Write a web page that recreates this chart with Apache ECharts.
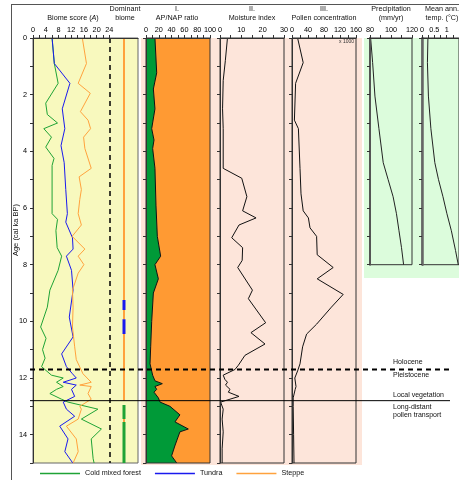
<!DOCTYPE html>
<html>
<head>
<meta charset="utf-8">
<script src="https://cdn.jsdelivr.net/npm/echarts@6/dist/echarts.min.js"></script>
<style>
html, body { margin: 0; padding: 0; background: #fff; }
#main { width: 459px; height: 480px; }
</style>
</head>
<body>
<div id="main"></div>
<script>
// ---- ticks / labels ----
var ageTicks = [0, 1, 2, 3, 4, 5, 6, 7, 8, 9, 10, 11, 12, 13, 14, 15]
var ageLabels = [0, 2, 4, 6, 8, 10, 12, 14]
var biomeTicks = [0, 2, 4, 6, 8, 10, 12, 14, 16, 18, 20, 22, 24]
var biomeLabels = [0, 4, 8, 12, 16, 20, 24]
var apTicks = [0, 10, 20, 30, 40, 50, 60, 70, 80, 90, 100]
var apLabels = [0, 20, 40, 60, 80, 100]
var miTicks = [0, 5, 10, 15, 20, 25, 30]
var miLabels = [0, 10, 20, 30]
var pcTicks = [0, 20, 40, 60, 80, 100, 120, 140, 160]
var pcLabels = [0, 40, 80, 120, 160]
var prTicks = [80, 90, 100, 110, 120]
var prLabels = [80, 100, 120]
var tpTicks = [0, 0.25, 0.5, 0.75, 1, 1.25]
var tpLabels = [0, 0.5, 1]

// ---- biome scores ----
var forestAge = [0, 0.9, 1.6, 2.3, 2.7, 3.0, 3.2, 3.5, 3.85, 4.25, 4.5, 6.2, 6.4, 6.8, 7.4, 7.7, 8.2, 8.9, 9.5, 10.2, 10.6, 11.0, 11.3, 11.6, 11.9, 12.0, 12.15, 12.3, 12.4, 12.55, 12.75, 12.85, 13.1, 13.45, 13.8, 14.15, 14.85, 15.0]
var forestScore = [6.0, 6.7, 7.9, 4.0, 4.5, 7.7, 3.4, 5.8, 4.0, 6.6, 6.0, 6.0, 7.7, 7.2, 7.6, 9.0, 7.9, 5.3, 4.5, 2.4, 4.1, 3.0, 3.8, 2.7, 5.8, 9.5, 7.4, 9.5, 7.4, 5.3, 9.0, 11.0, 20.4, 15.2, 21.5, 18.3, 18.9, 19.2]
var tundraAge = [0, 0.9, 1.6, 2.5, 3.2, 3.8, 4.4, 5.35, 6.2, 6.5, 7.05, 7.45, 7.7, 8.2, 8.9, 9.85, 10.55, 11.15, 11.6, 11.85, 12.0, 12.15, 12.25, 12.4, 12.65, 12.85, 13.1, 13.35, 13.7, 14.15, 14.6, 15.0]
var tundraScore = [6.0, 6.7, 11.6, 9.2, 10.0, 8.8, 9.8, 10.3, 10.8, 10.3, 12.4, 12.6, 10.5, 12.1, 12.6, 11.4, 12.6, 9.0, 10.5, 12.4, 13.6, 9.5, 13.6, 12.1, 13.1, 9.5, 10.5, 13.1, 8.4, 11.0, 10.0, 12.5]
var steppeAge = [0, 0.9, 1.6, 1.95, 2.6, 2.9, 3.2, 3.5, 3.9, 4.6, 4.9, 5.35, 5.7, 6.2, 6.6, 7.0, 7.45, 7.7, 8.0, 8.3, 8.9, 9.5, 10.2, 10.9, 11.35, 11.85, 12.15, 12.25, 12.3, 12.55, 12.75, 13.0, 13.1, 13.45, 13.7, 14.15, 14.6, 15.0]
var steppeScore = [15.5, 16.8, 14.2, 18.0, 14.9, 17.3, 18.1, 15.9, 16.3, 18.3, 14.5, 15.2, 14.7, 14.2, 15.2, 12.3, 16.3, 14.2, 16.0, 14.2, 12.4, 12.6, 12.4, 13.1, 13.6, 15.7, 18.3, 14.7, 18.3, 17.3, 18.3, 14.7, 15.2, 14.2, 10.5, 13.6, 14.2, 12.6]

// dominant biome intervals (ka)
var domStart = [0, 9.25, 9.6, 9.93, 10.45, 12.95, 13.45, 13.55]
var domEnd = [9.25, 9.6, 9.93, 10.45, 12.8, 13.45, 13.55, 15]
var domBiome = ['Steppe', 'Tundra', 'Steppe', 'Tundra', 'Steppe', 'Cold mixed forest', 'Steppe', 'Cold mixed forest']

// ---- I. AP/NAP ratio (AP %) ----
var apAge = [0, 1.23, 1.8, 2.5, 3.2, 3.6, 3.9, 4.6, 5.9, 7.0, 7.7, 8.0, 8.5, 9.0, 10.0, 10.9, 11.5, 11.9, 12.1, 12.2, 12.3, 12.4, 12.5, 12.7, 12.85, 13.0, 13.3, 13.55, 13.8, 13.9, 14.4, 14.75, 15.0]
var apValue = [14, 16.7, 11.5, 14, 8.9, 12.5, 10.4, 14, 15.6, 17.7, 22.9, 14, 19.3, 11.5, 8.9, 7.3, 6.3, 10.4, 14, 25.5, 14, 16.7, 12.5, 19.3, 21.9, 37.5, 53, 45.3, 66.1, 53, 45, 40, 48]

// ---- II. moisture index ----
var miAge = [0, 0.8, 1.5, 2.5, 3.2, 4.6, 4.95, 5.6, 6.1, 6.35, 6.6, 7.05, 7.4, 7.85, 8.1, 8.9, 9.2, 10.05, 10.4, 10.8, 11.2, 11.55, 11.7, 11.9, 12.05, 12.15, 12.25, 12.4, 12.5, 12.65, 12.85, 13.1, 13.45, 13.9, 14.5, 15]
var miValue = [3.5, 2.5, 1.5, 1.2, 1.5, 1.5, 10.2, 12.6, 10.6, 16.9, 8.9, 5.5, 10.6, 10.4, 8.3, 15.2, 13.3, 21.4, 14.5, 21.1, 11.7, 8.6, 7.0, 1.5, 2.3, 3.5, 2.6, 4.7, 3.9, 8.9, 0.3, 1.5, 1.0, 1.5, 1.0, 1.0]

// ---- III. pollen concentration (x 1000) ----
var pcAge = [0, 0.87, 1.6, 2.9, 3.2, 4.6, 5.5, 6.1, 6.35, 6.7, 7.0, 7.65, 8.1, 8.5, 9.05, 9.5, 10.1, 10.45, 10.9, 11.5, 11.75, 12.0, 12.3, 12.4, 12.7, 13.0, 14.0, 15.0]
var pcValue = [14, 28, 9, 6, 16, 20, 22.5, 28, 41, 45, 61.5, 63, 103, 63, 128, 98.5, 61.5, 36.5, 26.5, 20, 14, 7, 10, 8, 3, 3, 4, 5]

// ---- precipitation / temperature ----
var prAge = [0, 0.87, 2.05, 3.2, 4.4, 5.0, 5.6, 6.2, 6.8, 7.4, 8.0]
var prValue = [80.6, 82.5, 84.7, 88.5, 92.6, 97.3, 102, 105.2, 107.6, 110, 112]
var tpAge = [0, 0.87, 2.05, 3.2, 4.4, 5.0, 5.6, 6.2, 6.8, 7.5, 8.0]
var tpValue = [0.24, 0.22, 0.26, 0.36, 0.52, 0.67, 0.85, 1.01, 1.19, 1.36, 1.47]

var holoceneAge = 11.7
var localAge = 12.8

var ff = 'Liberation Sans, Arial, sans-serif'
var colors = { 'Cold mixed forest': '#1fa336', 'Tundra': '#1a1aee', 'Steppe': '#ffa23d' }

function pairs (xs, ys) {
  return xs.map(function (x, i) { return [x, ys[i]] })
}

var domX = 28.6
function domData (name) {
  var out = []
  domBiome.forEach(function (b, i) {
    if (b === name) {
      out.push([domX, domStart[i]], [domX, domEnd[i]], null)
    }
  })
  return out
}

function xAx (grid, min, max, ticks, labels) {
  return {
    type: 'value', gridIndex: grid, position: 'top', min: min, max: max, z: 5,
    axisLine: { show: true, lineStyle: { color: '#333', width: 1 } },
    axisTick: { show: true, inside: false, length: 3, customValues: ticks, lineStyle: { color: '#333' } },
    axisLabel: { customValues: labels, fontSize: 7.3, color: '#000', margin: 5, fontFamily: ff },
    splitLine: { show: false }
  }
}
function yAx (grid, max, labels, lineColor, lineWidth) {
  return {
    type: 'value', gridIndex: grid, inverse: true, min: 0, max: max, z: 5,
    axisLine: { show: true, lineStyle: { color: lineColor || '#333', width: lineWidth || 1 } },
    axisTick: { show: true, inside: false, length: 3, customValues: ageTicks.filter(function (t) { return t <= max }), lineStyle: { color: '#333' } },
    axisLabel: { show: labels, customValues: ageLabels, fontSize: 7.3, color: '#000', margin: 6, fontFamily: ff },
    splitLine: { show: false }
  }
}
function lineSeries (name, x, y, data, color, width) {
  return {
    name: name, type: 'line', xAxisIndex: x, yAxisIndex: y, data: data,
    showSymbol: false, symbol: 'none', animation: false,
    lineStyle: { color: color, width: width || 1 }, itemStyle: { color: color }
  }
}

function header (x, lines) {
  var ys = lines.length === 2 ? [9, 18] : [18]
  return lines.map(function (t, i) {
    return {
      type: 'text', z: 10, silent: true,
      style: { text: t, x: x, y: ys[i], fill: '#111', font: '7.2px ' + ff, textAlign: 'center', textVerticalAlign: 'middle',
        rich: { i: { fontStyle: 'italic', fontSize: 7.2, fontFamily: ff, fill: '#111' } } }
    }
  })
}
function label (x, y, t) {
  return { type: 'text', z: 10, silent: true, style: { text: t, x: x, y: y, fill: '#111', font: '7px ' + ff, textAlign: 'left', textVerticalAlign: 'middle' } }
}

function buildGraphic (yHol, yLoc) {
  var g = [
    { type: 'rect', z: -10, silent: true, shape: { x: 141, y: 38, width: 221, height: 427 }, style: { fill: '#fde5da' } },
    { type: 'rect', z: -10, silent: true, shape: { x: 364, y: 38, width: 95, height: 240 }, style: { fill: '#dcfcdc' } },
    { type: 'line', z: 10, silent: true, shape: { x1: 11, y1: 4.5, x2: 459, y2: 4.5 }, style: { stroke: '#555', lineWidth: 1 } },
    { type: 'line', z: 10, silent: true, shape: { x1: 11.5, y1: 4, x2: 11.5, y2: 480 }, style: { stroke: '#555', lineWidth: 1 } },
    { type: 'text', z: 10, silent: true, rotation: Math.PI / 2, x: 16, y: 230,
      style: { text: 'Age (cal ka BP)', x: 0, y: 0, fill: '#111', font: '7.5px ' + ff, textAlign: 'center', textVerticalAlign: 'middle' } },
    { type: 'text', z: 10, silent: true, style: { text: 'x 1000', x: 354, y: 42, fill: '#333', font: '5px ' + ff, textAlign: 'right', textVerticalAlign: 'middle' } }
  ]
  g = g.concat(header(73, ['Biome score ({i|A})']))
  g = g.concat(header(125, ['Dominant', 'biome']))
  g = g.concat(header(177, ['I.', 'AP/NAP ratio']))
  g = g.concat(header(252, ['II.', 'Moisture index']))
  g = g.concat(header(324, ['III.', 'Pollen concentration']))
  g = g.concat(header(391, ['Precipitation', '(mm/yr)']))
  g = g.concat(header(442, ['Mean ann.', 'temp. (°C)']))
  if (yHol != null) {
    g.push({ type: 'line', z: 10, silent: true, shape: { x1: 30, y1: yHol, x2: 453, y2: yHol }, style: { stroke: '#000', lineWidth: 2, lineDash: [5, 4] } })
    g.push({ type: 'line', z: 10, silent: true, shape: { x1: 30, y1: yLoc, x2: 450, y2: yLoc }, style: { stroke: '#000', lineWidth: 1 } })
    g.push(label(393, yHol - 7, 'Holocene'))
    g.push(label(393, yHol + 6, 'Pleistocene'))
    g.push(label(393, yLoc - 6, 'Local vegetation'))
    g.push(label(393, yLoc + 6, 'Long-distant'))
    g.push(label(393, yLoc + 14, 'pollen transport'))
  }
  return g
}

var chart = echarts.init(document.getElementById('main'), null, { renderer: 'canvas' })

var option = {
  animation: false,
  textStyle: { fontFamily: ff },
  grid: [
    { left: 33, top: 38, width: 105, height: 425, show: true, backgroundColor: '#f8f9be', borderColor: '#666', borderWidth: 1 },
    { left: 146, top: 38, width: 64, height: 425, show: true, backgroundColor: 'transparent', borderColor: '#333', borderWidth: 1, z: 5 },
    { left: 220, top: 38, width: 64, height: 425, show: true, backgroundColor: 'transparent', borderColor: '#333', borderWidth: 1 },
    { left: 292, top: 38, width: 64, height: 425, show: true, backgroundColor: 'transparent', borderColor: '#333', borderWidth: 1 },
    { left: 370, top: 38, width: 42, height: 226.7, show: true, backgroundColor: 'transparent', borderColor: '#333', borderWidth: 1 },
    { left: 422, top: 38, width: 40.5, height: 226.7, show: true, backgroundColor: 'transparent', borderColor: '#333', borderWidth: 1 }
  ],
  xAxis: [
    xAx(0, 0, 33, biomeTicks, biomeLabels),
    xAx(1, 0, 100, apTicks, apLabels),
    xAx(2, 0, 30, miTicks, miLabels),
    xAx(3, 0, 160, pcTicks, pcLabels),
    xAx(4, 80, 120, prTicks, prLabels),
    xAx(5, 0, 1.5, tpTicks, tpLabels)
  ],
  yAxis: [
    yAx(0, 15, true),
    yAx(1, 15, false),
    yAx(2, 15, false),
    yAx(3, 15, false),
    yAx(4, 8, false, '#555', 2),
    yAx(5, 8, false, '#666', 2.5)
  ],
  legend: {
    data: ['Cold mixed forest', 'Tundra', 'Steppe'],
    icon: 'rect',
    left: 35, top: 465, itemWidth: 40, itemHeight: 1.5, itemGap: 14,
    textStyle: { fontSize: 7.2, color: '#111', fontFamily: ff }
  },
  series: [
    lineSeries('Cold mixed forest', 0, 0, pairs(forestScore, forestAge), colors['Cold mixed forest']),
    lineSeries('Tundra', 0, 0, pairs(tundraScore, tundraAge), colors['Tundra']),
    Object.assign(lineSeries('Steppe', 0, 0, pairs(steppeScore, steppeAge), colors['Steppe']), {
      markLine: {
        silent: true, symbol: 'none', label: { show: false }, animation: false,
        lineStyle: { color: '#000', type: [5, 4], width: 1.5 },
        data: [{ xAxis: 24 }]
      }
    }),
    lineSeries('dom-steppe', 0, 0, domData('Steppe'), colors['Steppe'], 2),
    lineSeries('dom-tundra', 0, 0, domData('Tundra'), colors['Tundra'], 3),
    lineSeries('dom-forest', 0, 0, domData('Cold mixed forest'), colors['Cold mixed forest'], 3),
    {
      type: 'custom', xAxisIndex: 1, yAxisIndex: 1, data: [[0, 0]], animation: false, silent: true,
      renderItem: function (params, api) {
        var pts = apAge.map(function (a, i) { return api.coord([apValue[i], a]) })
        var green = [api.coord([0, 0])].concat(pts, [api.coord([0, 15])])
        var orange = [api.coord([100, 0])].concat(pts, [api.coord([100, 15])])
        return {
          type: 'group',
          children: [
            { type: 'polygon', shape: { points: orange }, style: { fill: '#ff9a33' } },
            { type: 'polygon', shape: { points: green }, style: { fill: '#009a38' } },
            { type: 'polyline', shape: { points: pts }, style: { stroke: '#111', lineWidth: 1, fill: null } }
          ]
        }
      }
    },
    lineSeries('mi', 2, 2, pairs(miValue, miAge), '#111'),
    lineSeries('pc', 3, 3, pairs(pcValue, pcAge), '#111'),
    lineSeries('pr', 4, 4, pairs(prValue, prAge), '#222'),
    lineSeries('tp', 5, 5, pairs(tpValue, tpAge), '#222')
  ],
  graphic: buildGraphic(null, null)
}

chart.setOption(option)

var yHol = chart.convertToPixel({ yAxisIndex: 0 }, holoceneAge)
var yLoc = chart.convertToPixel({ yAxisIndex: 0 }, localAge)
chart.setOption({ graphic: buildGraphic(yHol, yLoc) })
</script>
</body>
</html>
